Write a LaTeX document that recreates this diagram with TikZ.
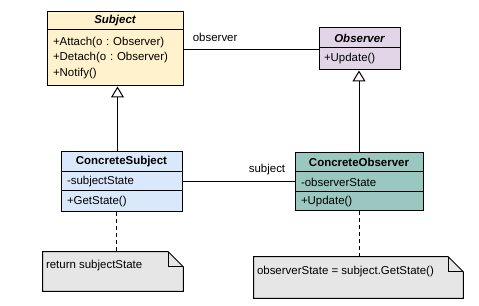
\documentclass[tikz,border=0pt]{standalone}
\usepackage{fontspec}
\setmainfont{Liberation Sans}
\usetikzlibrary{arrows.meta, calc, backgrounds}
\definecolor{umlyellow}{HTML}{FFF2CC}
\definecolor{umlpurple}{HTML}{E1D5E7}
\definecolor{umlblue}{HTML}{DAE8FC}
\definecolor{umlteal}{HTML}{9AC7BF}
\definecolor{umlgray}{HTML}{E6E6E6}

\begin{document}
\frenchspacing
\fontsize{8.6}{11.6}\selectfont
\begin{tikzpicture}[
  x=0.75pt, y=-0.75pt,
  umlhead/.style={rectangle, draw=black, line width=0.75pt, font=\bfseries, inner sep=0pt, align=center},
  umlabstract/.style={umlhead, font=\bfseries\itshape},
  umlbody/.style={rectangle, draw=black, line width=0.75pt, inner xsep=4.5pt, inner ysep=0pt, align=left},
  notebox/.style={rectangle, inner sep=0pt},
  notetext/.style={anchor=west, inner sep=0pt, xshift=2.25pt},
  noteline/.style={draw=black, line width=0.75pt, fill=umlgray},
  inherit/.style={-{Triangle[fill=white, length=8.25pt, width=9.75pt]}, line width=0.75pt},
  assoc/.style={line width=0.75pt},
  dashline/.style={line width=0.75pt, dash pattern=on 3pt off 2.25pt}
]
\useasboundingbox (0,0) rectangle (479,306);

% Abstract classes
\node[umlabstract, fill=umlyellow, minimum width=102pt, minimum height=13.5pt] (subjhead) at (115,21) {Subject};
\node[umlbody, fill=umlyellow, text width=93pt, minimum height=42pt] (subjbody) at (115,58) {+Attach(o : Observer)\\+Detach(o : Observer)\\+Notify()};

\node[umlabstract, fill=umlpurple, minimum width=60.75pt, minimum height=15pt] (obshead) at (359.5,38) {Observer};
\node[umlbody, fill=umlpurple, inner xsep=3.75pt, text width=53.25pt, minimum height=16.5pt] (obsbody) at (359.5,59) {+Update()};

% Concrete classes
\node[umlhead, fill=umlblue, minimum width=90.75pt, minimum height=15pt] (csubhead) at (121.5,162) {ConcreteSubject};
\node[umlbody, fill=umlblue, text width=81.75pt, minimum height=14.25pt] (csubattr) at (121.5,181.5) {-subjectState};
\node[umlbody, fill=umlblue, text width=81.75pt, minimum height=15.75pt] (csubmeth) at (121.5,201.5) {+GetState()};

\node[umlhead, fill=umlteal, minimum width=96pt, minimum height=14.25pt] (cobshead) at (359,162.5) {ConcreteObserver};
\node[umlbody, fill=umlteal, text width=87pt, minimum height=15pt] (cobsattr) at (359,182) {-observerState};
\node[umlbody, fill=umlteal, text width=87pt, minimum height=14.25pt] (cobsmeth) at (359,201.5) {+Update()};

% Notes
\node[notebox, minimum width=105pt, minimum height=29.25pt, label={[notetext, yshift=-10.5pt]north west:return subjectState}] (note1) at (113,271.5) {};
\node[notebox, minimum width=156.75pt, minimum height=30.75pt, label={[notetext, yshift=-10.9pt]north west:observerState = subject.GetState()}] (note2) at (358.5,277.5) {};

\begin{scope}[on background layer]
  \foreach \n in {note1, note2} {
    \draw[noteline] (\n.north west) -- ($(\n.north east)+(-15,0)$) -- ($(\n.north east)+(0,15)$) -- (\n.south east) -- (\n.south west) -- cycle;
    \draw[line width=0.75pt] ($(\n.north east)+(-15,0)$) |- ($(\n.north east)+(0,15)$);
  }
\end{scope}

% Generalisation
\coordinate (cs_top) at ($(csubhead.north)+(-4,0)$);
\draw[inherit] (cs_top) -- (cs_top |- subjbody.south);
\draw[inherit] (cobshead.north) -- (cobshead.north |- obsbody.south);

% Associations
\coordinate (obs_end) at ($(obsbody.north west)+(0,2)$);
\draw[assoc] (obs_end -| subjbody.east) -- node[pos=0, anchor=base west, xshift=3.75pt, yshift=6pt] {observer} (obs_end);
\draw[assoc] (csubattr.east) -- node[pos=1, anchor=base east, xshift=-3.75pt, yshift=6.5pt] {subject} (csubattr.east -| cobsattr.west);

% Note links
\coordinate (cs_foot) at ($(csubmeth.south)+(-5.5,0)$);
\draw[dashline] (cs_foot) -- (cs_foot |- note1.north);
\draw[dashline] (cobsmeth.south) -- (cobsmeth.south |- note2.north);

\end{tikzpicture}
\end{document}
